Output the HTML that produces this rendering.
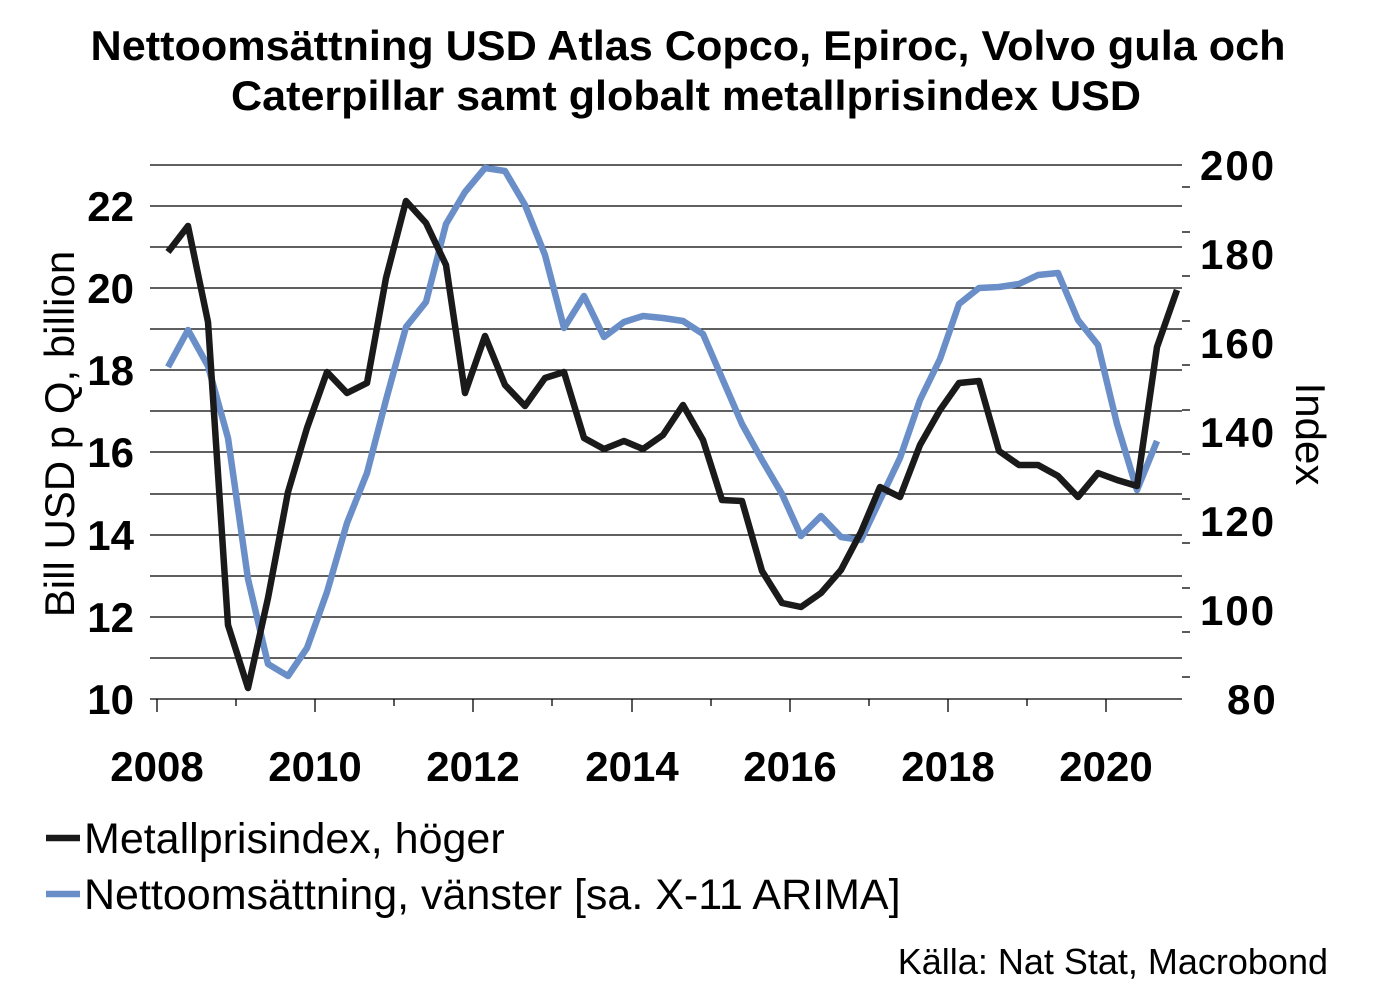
<!DOCTYPE html>
<html><head><meta charset="utf-8"><style>
body{margin:0;background:#fff;}
svg{display:block;font-family:"Liberation Sans",Arial,sans-serif;}
</style></head><body>
<svg width="1382" height="1006" viewBox="0 0 1382 1006">
<text x="688" y="60" text-anchor="middle" font-size="42" font-weight="bold" textLength="1195" lengthAdjust="spacingAndGlyphs">Nettoomsättning USD Atlas Copco, Epiroc, Volvo gula och</text>
<text x="686" y="110" text-anchor="middle" font-size="42" font-weight="bold" textLength="910" lengthAdjust="spacingAndGlyphs">Caterpillar samt globalt metallprisindex USD</text>
<g stroke="#000" stroke-width="1.3">
<line x1="150" x2="1182" y1="165" y2="165"/><line x1="150" x2="1182" y1="206" y2="206"/><line x1="150" x2="1182" y1="247" y2="247"/><line x1="150" x2="1182" y1="288" y2="288"/><line x1="150" x2="1182" y1="329" y2="329"/><line x1="150" x2="1182" y1="370" y2="370"/><line x1="150" x2="1182" y1="411" y2="411"/><line x1="150" x2="1182" y1="452" y2="452"/><line x1="150" x2="1182" y1="494" y2="494"/><line x1="150" x2="1182" y1="535" y2="535"/><line x1="150" x2="1182" y1="576" y2="576"/><line x1="150" x2="1182" y1="617" y2="617"/><line x1="150" x2="1182" y1="658" y2="658"/><line x1="150" x2="1182" y1="699" y2="699"/>
<line x1="1182" x2="1190" y1="187" y2="187"/><line x1="1182" x2="1190" y1="232" y2="232"/><line x1="1182" x2="1190" y1="276" y2="276"/><line x1="1182" x2="1190" y1="321" y2="321"/><line x1="1182" x2="1190" y1="365" y2="365"/><line x1="1182" x2="1190" y1="410" y2="410"/><line x1="1182" x2="1190" y1="454" y2="454"/><line x1="1182" x2="1190" y1="499" y2="499"/><line x1="1182" x2="1190" y1="543" y2="543"/><line x1="1182" x2="1190" y1="588" y2="588"/><line x1="1182" x2="1190" y1="632" y2="632"/><line x1="1182" x2="1190" y1="677" y2="677"/>
<line x1="157" x2="157" y1="699" y2="712"/><line x1="236" x2="236" y1="699" y2="706"/><line x1="315" x2="315" y1="699" y2="712"/><line x1="394" x2="394" y1="699" y2="706"/><line x1="473" x2="473" y1="699" y2="712"/><line x1="552" x2="552" y1="699" y2="706"/><line x1="632" x2="632" y1="699" y2="712"/><line x1="711" x2="711" y1="699" y2="706"/><line x1="790" x2="790" y1="699" y2="712"/><line x1="869" x2="869" y1="699" y2="706"/><line x1="948" x2="948" y1="699" y2="712"/><line x1="1027" x2="1027" y1="699" y2="706"/><line x1="1106" x2="1106" y1="699" y2="712"/>
</g>
<g font-size="42" font-weight="bold" text-anchor="end">
<text x="134" y="221">22</text><text x="134" y="303">20</text><text x="134" y="385">18</text><text x="134" y="467">16</text><text x="134" y="550">14</text><text x="134" y="632">12</text><text x="134" y="714">10</text>
</g>
<g font-size="42" font-weight="bold" text-anchor="start" letter-spacing="2">
<text x="1200" y="180">200</text><text x="1200" y="269">180</text><text x="1200" y="358">160</text><text x="1200" y="447">140</text><text x="1200" y="536">120</text><text x="1200" y="625">100</text><text x="1227" y="714">80</text>
</g>
<g font-size="42" font-weight="bold" text-anchor="middle">
<text x="157" y="781">2008</text><text x="315" y="781">2010</text><text x="473" y="781">2012</text><text x="632" y="781">2014</text><text x="790" y="781">2016</text><text x="948" y="781">2018</text><text x="1106" y="781">2020</text>
</g>
<text transform="translate(74,434) rotate(-90)" text-anchor="middle" font-size="42">Bill USD p Q, billion</text>
<text transform="translate(1296,434) rotate(90)" text-anchor="middle" font-size="42">Index</text>
<polyline fill="none" stroke="#6a8fc8" stroke-width="6.5" stroke-linejoin="round" points="168,367 188,330 208,366 228,438 248,579 268,664 288,676 307,648 327,592 347,523 367,473 386,400 406,327 426,302 446,224 465,192 485,168 505,171 525,205 545,255 564,328 584,296 604,337 624,322 643,316 663,318 683,321 703,334 722,378 742,424 762,460 782,494 801,536 821,516 841,537 861,540 880,500 900,458 920,400 940,359 959,304 979,288 999,287 1019,284 1038,275 1058,273 1078,320 1098,345 1117,424 1137,490 1157,441"/>
<polyline fill="none" stroke="#1a1a1a" stroke-width="6.5" stroke-linejoin="round" points="168,252 188,226 208,322 228,625 248,688 268,598 288,492 307,428 327,372 347,393 367,383 386,278 406,201 426,223 446,265 465,393 485,336 505,385 525,406 545,378 564,372 584,438 604,449 624,441 643,449 663,435 683,405 703,440 722,500 742,501 762,571 782,603 801,607 821,593 841,570 861,532 880,487 900,497 920,445 940,410 959,383 979,381 999,451 1019,465 1038,465 1058,476 1078,497 1098,473 1117,480 1137,486 1157,347 1177,290"/>
<line x1="46" x2="80" y1="838" y2="838" stroke="#1a1a1a" stroke-width="6.5"/>
<text x="84" y="853" font-size="43">Metallprisindex, höger</text>
<line x1="46" x2="80" y1="894" y2="894" stroke="#6a8fc8" stroke-width="6.5"/>
<text x="84" y="909" font-size="43">Nettoomsättning, vänster [sa. X-11 ARIMA]</text>
<text x="1328" y="974" text-anchor="end" font-size="36">Källa: Nat Stat, Macrobond</text>
</svg>
</body></html>
